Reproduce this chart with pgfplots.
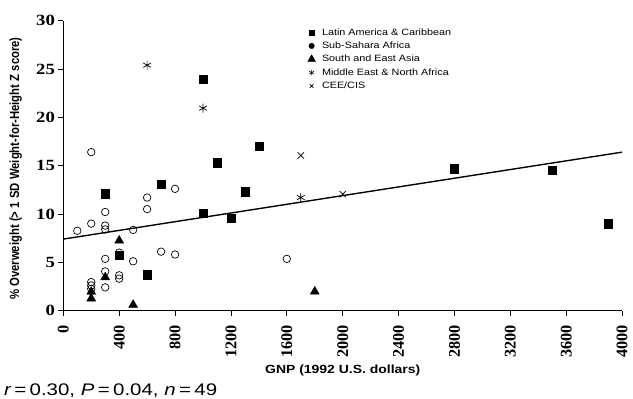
\documentclass[border=0pt]{standalone}
\usepackage{fontspec}
\setmainfont{Liberation Serif}
\setsansfont{Liberation Sans}
\usepackage{pgfplots}
\pgfplotsset{compat=1.18}
\newcommand{\hs}[2][1.18]{\scalebox{#1}[1]{#2}}
\begin{document}
\begin{tikzpicture}
\useasboundingbox (-64bp,-89bp) rectangle (576bp,314bp);
\begin{axis}[
  at={(0,0)}, anchor=south west,
  scale only axis, width=565bp, height=293bp,
  xmin=0, xmax=4000, ymin=0, ymax=30,
  axis x line=bottom, axis y line=left,
  axis line style={-, line width=0.9bp, black},
  xtick={0,400,...,4000}, ytick={0,5,...,30},
  tick align=outside, major tick length=5bp,
  tick style={line width=0.8bp, black},
  /pgf/number format/assume math mode=true,
  /pgf/number format/set thousands separator={},
  xticklabel shift=9.5bp,
  xticklabel style={rotate=90, anchor=east, inner sep=0pt, font=\fontsize{16.5}{17}\selectfont\bfseries},
  yticklabel={\hs[1.2]{\pgfmathprintnumber{\tick}}},
  yticklabel style={font=\fontsize{15.8}{16}\selectfont\bfseries},
  clip=false,
  xlabel={\hs{GNP (1992 U.S. dollars)}},
  every axis x label/.style={at={(axis description cs:0.5,-0.2082)}, anchor=center, font=\sffamily\bfseries\fontsize{12}{14}\selectfont},
  ylabel={\scalebox{1}[1.17]{\% Overweight (> 1 SD Weight-for-Height Z score)}},
  every axis y label/.style={at={(axis description cs:-0.085,0.49)}, rotate=90, anchor=center, font=\sffamily\bfseries\fontsize{11.5}{13}\selectfont},
  legend style={at={(rel axis cs:0.437,0.983)}, anchor=north west, draw=none, fill=none,
    font=\sffamily\fontsize{9.3}{11}\selectfont, row sep=0pt, inner sep=0pt,
    nodes={inner sep=1bp, text height=8.5bp, text depth=3bp},
    /tikz/every odd column/.style={column sep=5.5bp}},
  legend cell align=left,
  legend image code/.code={\draw[#1] plot coordinates {(0bp,0bp)};},
]
% legend images
\addlegendimage{only marks, mark=square*, mark size=2.8bp, black}
\addlegendentry{\hs{Latin America \& Caribbean}}
\addlegendimage{only marks, mark=*, mark size=2.8bp, black}
\addlegendentry{\hs{Sub-Sahara Africa}}
\addlegendimage{only marks, mark=triangle*, mark size=4.6bp, black}
\addlegendentry{\hs{South and East Asia}}
\addlegendimage{only marks, mark=asterisk, mark size=2.8bp, black, mark options={line width=0.6bp}}
\addlegendentry{\hs{Middle East \& North Africa}}
\addlegendimage{only marks, mark=x, mark size=2.6bp, black, mark options={line width=0.6bp}}
\addlegendentry{\hs{CEE/CIS}}

% trend line
\addplot[forget plot, black, line width=1.4bp] coordinates {(0,7.4) (4000,16.4)};

% Sub-Sahara Africa (open circles)
\addplot[forget plot, only marks, mark=o, mark size=3.8bp, mark options={fill=white, draw=black, line width=0.7bp}] coordinates {
(100,8.26) (200,16.4) (200,9.0) (200,2.95) (200,2.6) (200,2.25)
(300,10.2) (300,8.8) (300,8.4) (300,5.35) (300,4.05) (300,2.4)
(400,6.0) (400,3.65) (400,3.3) (500,8.35) (500,5.1)
(600,11.7) (600,10.5) (700,6.1) (800,12.6) (800,5.8) (1600,5.35)
};

% Latin America & Caribbean
\addplot[forget plot, only marks, mark=square*, mark size=4.2bp, black] coordinates {
(300,12.1) (400,5.7) (600,3.7) (700,13.05) (1000,23.95) (1000,10.1)
(1100,15.3) (1200,9.55) (1300,12.3) (1400,17.05) (2800,14.7) (3500,14.5) (3900,9.0)
};

% South and East Asia
\addplot[forget plot, only marks, mark=triangle*, mark size=5.2bp, black] coordinates {
(200,1.95) (200,1.25) (300,3.45) (400,7.25) (500,0.6) (1800,1.97)
};

% Middle East & North Africa
\addplot[forget plot, only marks, mark=asterisk, mark size=4.5bp, black, mark options={line width=0.7bp}] coordinates {
(600,25.4) (1000,20.95) (1700,11.7)
};

% CEE/CIS
\addplot[forget plot, only marks, mark=x, mark size=4.5bp, black, mark options={line width=0.7bp}] coordinates {
(1700,16.05) (2000,12.05)
};

\node[anchor=base west, font=\sffamily\fontsize{17}{19}\selectfont, inner sep=0pt] at (axis description cs:-0.1062,-0.2935)
  {\hs[1.22]{{\itshape r}\,=\,0.30, {\itshape P}\,=\,0.04, {\itshape n}\,=\,49}};
\end{axis}
\end{tikzpicture}
\end{document}
